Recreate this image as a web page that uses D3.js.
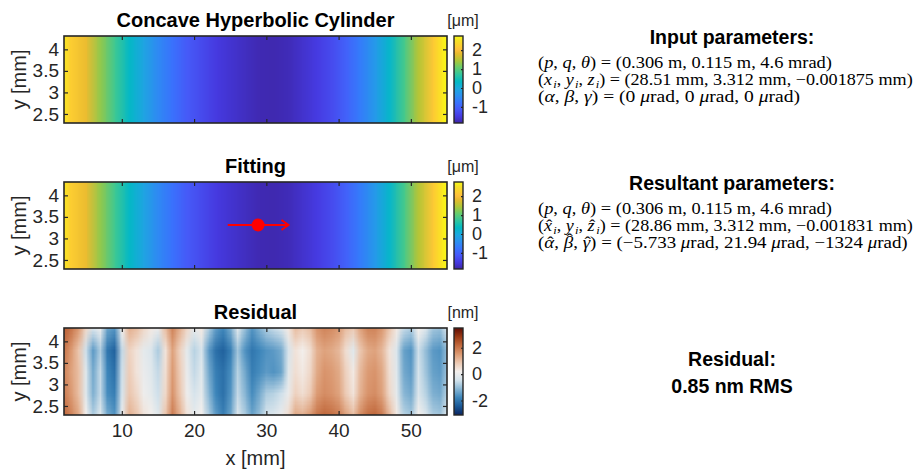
<!DOCTYPE html>
<html>
<head>
<meta charset="utf-8">
<title>Concave Hyperbolic Cylinder</title>
<script src="https://cdnjs.cloudflare.com/ajax/libs/d3/7.8.5/d3.min.js"></script>
<style>
  body { margin: 0; background: #fff; }
  text { font-family: "Liberation Sans", Arial, sans-serif; fill: #000; }
  text.math { font-family: "Liberation Serif", "Times New Roman", serif; }
  .ax line { stroke: #262626; stroke-width: 1.2; }
  .ax path { display: none; }
</style>
</head>
<body>
<div id="main-container"></div>
<script>

var outerWidth = 919;
var outerHeight = 472;

// surface heights [um], one sample every 2 mm
var surfX = [1, 3, 5, 7, 9, 11, 13, 15, 17, 19, 21, 23, 25, 27, 29, 31, 33, 35, 37, 39, 41, 43, 45, 47, 49, 51, 53, 55];
var surfZ = [3.2, 2.2, 1.85, 1.3, 0.8, 0.3, -0.1, -0.5, -0.8, -1.1, -1.3, -1.5, -1.6, -1.7, -1.78, -1.8, -1.75, -1.62, -1.48, -1.28, -1.0, -0.65, -0.25, 0.25, 0.85, 1.5, 2.15, 2.75];
// fitted surface [um] (same at this scale)
var fitZ = [3.2, 2.2, 1.85, 1.3, 0.8, 0.3, -0.1, -0.5, -0.8, -1.1, -1.3, -1.5, -1.6, -1.7, -1.78, -1.8, -1.75, -1.62, -1.48, -1.28, -1.0, -0.65, -0.25, 0.25, 0.85, 1.5, 2.15, 2.75];
var surfClim = [-1.85, 2.75];
var surfTicks = [-1, 0, 1, 2];

// residual [nm], columns every 1 mm, rows from top to bottom
var residX = [2, 3, 4, 5, 6, 7, 8, 9, 10, 11, 12, 13, 14, 15, 16, 17, 18, 19, 20, 21, 22, 23, 24, 25, 26, 27, 28,
              29, 30, 31, 32, 33, 34, 35, 36, 37, 38, 39, 40, 41, 42, 43, 44, 45, 46, 47, 48, 49, 50, 51, 52, 53, 54, 55];
var residY = [4.3, 3.8, 3.3, 2.8, 2.3];
var residRow1 = [2.3, 2.0, 1.5, 0.6, -0.4, 0.0, -1.4, -1.6, 0.2, 1.2,
                 1.0, 0.6, 0.3, 0.0, 1.0, 1.8, 1.2, 0.6, -0.1, 0.3,
                 -0.8, -1.5, -1.8, -1.3, -0.2, -1.0, -1.6, -1.2, -0.8, -0.6,
                 -0.4, 0.3, 1.0, 0.8, 1.0, 1.6, 1.8, 1.7, 1.5, 1.0,
                 0.8, 1.4, 1.8, 1.8, 1.5, 0.9, 0.3, -0.6, -0.8, 0.2,
                 -0.3, -0.9, -1.0, -0.3];
var residRow2 = [2.0, 1.5, 0.9, -0.5, -1.5, -0.8, -2.0, -2.3, -0.6, 0.7,
                 0.4, -0.1, -0.3, -0.8, 0.4, 1.4, 0.7, -0.1, -0.7, -0.4,
                 -1.5, -2.1, -2.3, -1.9, -0.9, -1.6, -2.0, -1.8, -1.6, -1.5,
                 -1.3, -0.4, 0.4, 0.2, 0.5, 1.2, 1.4, 1.3, 1.1, 0.5,
                 -0.2, 0.9, 1.3, 1.4, 1.1, 0.4, -0.3, -1.4, -1.6, -0.5,
                 -1.0, -1.5, -1.6, -1.0];
var residRow3 = [1.8, 1.4, 1.0, -0.2, -1.3, -0.6, -1.8, -2.1, -0.5, 0.8,
                 0.4, 0.0, -0.2, -0.6, 0.5, 1.5, 0.8, 0.0, -0.6, -0.2,
                 -1.3, -1.9, -2.1, -1.7, -0.7, -1.3, -1.9, -1.7, -1.5, -1.6,
                 -1.4, -0.2, 0.5, 0.3, 0.6, 1.3, 1.6, 1.5, 1.3, 0.7,
                 0.3, 1.1, 1.5, 1.6, 1.3, 0.5, -0.2, -1.3, -1.5, -0.4,
                 -0.9, -1.4, -1.5, -0.9];
var residRow4 = [1.9, 1.5, 1.0, -0.2, -1.2, -0.6, -1.7, -1.9, -0.4, 0.9,
                 0.6, 0.1, -0.1, -0.5, 0.6, 1.6, 0.9, 0.1, -0.4, -0.1,
                 -1.1, -1.8, -2.1, -1.6, -0.6, -1.1, -1.7, -1.3, -0.8, -0.7,
                 -0.5, 0.0, 0.7, 0.5, 0.8, 1.5, 1.7, 1.6, 1.4, 0.8,
                 0.4, 1.2, 1.6, 1.7, 1.4, 0.6, -0.1, -1.1, -1.3, -0.3,
                 -0.7, -1.2, -1.3, -0.7];
var residRow5 = [2.2, 1.8, 1.3, 0.2, -0.8, -0.2, -1.3, -1.6, 0.0, 1.2,
                 0.9, 0.4, 0.2, -0.2, 0.9, 1.9, 1.2, 0.4, -0.1, 0.2,
                 -0.8, -1.5, -1.9, -1.4, -0.3, -0.8, -1.4, -1.0, -0.4, -0.3,
                 0.0, 0.5, 1.3, 1.2, 1.5, 2.0, 2.2, 2.1, 1.9, 1.4,
                 1.0, 1.7, 2.1, 2.2, 1.9, 1.1, 0.3, -0.7, -0.9, 0.2,
                 -0.3, -0.8, -0.9, -0.2];
var residClim = [-3.1, 3.5];
var residTicks = [-2, 0, 2];

var xTicks = [10, 20, 30, 40, 50];
var yTicks = [2.5, 3, 3.5, 4];
var xDomain = [2, 55];
var yDomain = [2.29, 4.31];

// parameters shown on the right
var inputPqt = [0.306, 0.115, 4.6];
var inputPos = [28.51, 3.312, -0.001875];
var inputAng = [0, 0, 0];
var fitPqt = [0.306, 0.115, 4.6];
var fitPos = [28.86, 3.312, -0.001831];
var fitAng = [-5.733, 21.94, -1324];
var residualRms = 0.85;
var arrowHalf = 4.2; // mm

// colormaps (parula stops at index/63, and a blue-white-brown diverging map)
var parulaPos = [0, 5, 10, 15, 20, 25, 30, 35, 40, 45, 50, 53, 56, 60, 63];
var parulaColors = ['#3e26a8', '#463be2', '#4758f8', '#3875fe', '#2b91ef', '#1ca9df', '#02bac3',
                    '#31c69f', '#64cd6f', '#abc739', '#e6bb2d', '#febe3c', '#fccf30', '#f5e227', '#f9fb15'];
var balanceColors = ['#0a2460', '#1a5896', '#3d86bb', '#88b6d4', '#d4e3ec', '#f3efec',
                     '#ecc9b2', '#dc9a72', '#c26a3e', '#9a3a15', '#5e0d05'];

function makeCmap(colors, clim, pos) {
  var n = pos ? pos[pos.length - 1] : colors.length - 1;
  var dom = colors.map(function(c, i){ return clim[0] + (clim[1] - clim[0]) * (pos ? pos[i] : i) / n; });
  return d3.scaleLinear().domain(dom).range(colors).clamp(true);
}
var parula = makeCmap(parulaColors, surfClim, parulaPos);
var balance = makeCmap(balanceColors, residClim);

var plotLeft = 64, plotRight = 447, plotH = 87;
var panelTops = [36, 182, 328];
var cbX = 454, cbW = 9;

var svg = d3.select('#main-container').append('svg')
  .attr('width', outerWidth).attr('height', outerHeight);
var defs = svg.append('defs');

var xScale = d3.scaleLinear().domain(xDomain).range([plotLeft, plotRight]);

function heatImage(g, rows, xs, ys, cmap, yScale, clipId) {
  var nc = rows[0].length, nr = rows.length;
  var canvas = document.createElement('canvas');
  canvas.width = nc; canvas.height = nr;
  var ctx = canvas.getContext('2d');
  var img = ctx.createImageData(nc, nr);
  rows.forEach(function(row, r){
    row.forEach(function(v, c){
      var col = d3.rgb(cmap(v));
      var k = 4 * (r * nc + c);
      img.data[k] = col.r; img.data[k+1] = col.g; img.data[k+2] = col.b; img.data[k+3] = 255;
    });
  });
  ctx.putImageData(img, 0, 0);
  var dx = (xs[1] - xs[0]) / 2;
  var x0 = xScale(xs[0] - dx), x1 = xScale(xs[nc - 1] + dx);
  var y0, y1;
  if (ys.length > 1) {
    var dy = (ys[0] - ys[1]) / 2;
    y0 = yScale(ys[0] + dy); y1 = yScale(ys[nr - 1] - dy);
  } else {
    y0 = yScale(yDomain[1]); y1 = yScale(yDomain[0]);
  }
  g.append('image')
    .attr('href', canvas.toDataURL())
    .attr('x', x0).attr('width', x1 - x0)
    .attr('y', y0).attr('height', y1 - y0)
    .attr('preserveAspectRatio', 'none')
    .attr('clip-path', 'url(#' + clipId + ')');
}

function panel(i, title, unit, rows, xs, ys, cmap, clim, cticks, showX) {
  var top = panelTops[i];
  var yScale = d3.scaleLinear().domain(yDomain).range([top + plotH, top]);
  var g = svg.append('g');
  var clipId = 'clip' + i;
  defs.append('clipPath').attr('id', clipId).append('rect')
    .attr('x', plotLeft).attr('y', top).attr('width', plotRight - plotLeft).attr('height', plotH);

  heatImage(g, rows, xs, ys, cmap, yScale, clipId);

  // ticks inside on all four sides
  g.append('g').attr('class', 'ax').attr('transform', 'translate(' + plotLeft + ',0)')
    .call(d3.axisLeft(yScale).tickValues(yTicks).tickSize(-4).tickPadding(5).tickFormat(function(d){ return String(d); }))
    .selectAll('text').style('font-size', '19px').style('fill', '#262626');
  g.append('g').attr('class', 'ax').attr('transform', 'translate(' + plotRight + ',0)')
    .call(d3.axisRight(yScale).tickValues(yTicks).tickSize(-4).tickFormat(''));
  g.append('g').attr('class', 'ax').attr('transform', 'translate(0,' + top + ')')
    .call(d3.axisTop(xScale).tickValues(xTicks).tickSize(-4).tickFormat(''));
  var xb = g.append('g').attr('class', 'ax').attr('transform', 'translate(0,' + (top + plotH) + ')')
    .call(d3.axisBottom(xScale).tickValues(xTicks).tickSize(-4).tickPadding(9)
      .tickFormat(showX ? function(d){ return String(d); } : ''));
  xb.selectAll('text').style('font-size', '19px').style('fill', '#262626');

  g.append('rect').attr('x', plotLeft).attr('y', top)
    .attr('width', plotRight - plotLeft).attr('height', plotH)
    .attr('fill', 'none').attr('stroke', '#262626').attr('stroke-width', 1.6);

  g.append('text').attr('x', (plotLeft + plotRight) / 2).attr('y', top - 9)
    .attr('text-anchor', 'middle').style('font-size', '20px').style('font-weight', 'bold')
    .text(title);

  g.append('text')
    .attr('transform', 'translate(26,' + (top + plotH / 2) + ') rotate(-90)')
    .attr('text-anchor', 'middle').style('font-size', '20px').style('fill', '#262626')
    .text('y [mm]');

  // colorbar
  var cScale = d3.scaleLinear().domain(clim).range([top + plotH, top]);
  var gid = 'grad' + i;
  var grad = defs.append('linearGradient').attr('id', gid)
    .attr('x1', 0).attr('y1', 0).attr('x2', 0).attr('y2', 1);
  d3.range(61).forEach(function(k){
    var v = clim[1] - (clim[1] - clim[0]) * k / 60;
    grad.append('stop').attr('offset', k / 60).attr('stop-color', cmap(v));
  });
  g.append('rect').attr('x', cbX).attr('y', top).attr('width', cbW).attr('height', plotH)
    .attr('fill', 'url(#' + gid + ')').attr('stroke', '#262626').attr('stroke-width', 1.4);
  g.append('g').attr('class', 'ax').attr('transform', 'translate(' + (cbX + cbW) + ',0)')
    .call(d3.axisRight(cScale).tickValues(cticks).tickSize(-2).tickPadding(9).tickFormat(function(d){ return String(d); }))
    .selectAll('text').style('font-size', '18px').style('fill', '#262626');
  g.append('text').attr('x', cbX + 9).attr('y', top - 10)
    .attr('text-anchor', 'middle').style('font-size', '16px').style('fill', '#262626')
    .text(unit);

  return yScale;
}

panel(0, 'Concave Hyperbolic Cylinder', '[\u03bcm]', [surfZ], surfX, [0], parula, surfClim, surfTicks, false);
var yFit = panel(1, 'Fitting', '[\u03bcm]', [fitZ], surfX, [0], parula, surfClim, surfTicks, false);
panel(2, 'Residual', '[nm]', [residRow1, residRow2, residRow3, residRow4, residRow5], residX, residY,
      balance, residClim, residTicks, true);

svg.append('text').attr('x', (plotLeft + plotRight) / 2).attr('y', 465)
  .attr('text-anchor', 'middle').style('font-size', '20px').style('fill', '#262626')
  .text('x [mm]');

// fitted position marker with direction arrow
var mx = fitPos[0], my = fitPos[1];
var mk = svg.append('g').attr('stroke', '#ff0000').attr('stroke-width', 2).attr('fill', 'none');
mk.append('line')
  .attr('x1', xScale(mx - arrowHalf)).attr('x2', xScale(mx + arrowHalf))
  .attr('y1', yFit(my)).attr('y2', yFit(my));
mk.append('polyline')
  .attr('points', [[xScale(mx + arrowHalf) - 7, yFit(my) - 5], [xScale(mx + arrowHalf), yFit(my)],
                   [xScale(mx + arrowHalf) - 7, yFit(my) + 5]].join(' '));
svg.append('circle').attr('cx', xScale(mx)).attr('cy', yFit(my)).attr('r', 6.5).attr('fill', '#ff0000');

// right hand text
function fmt(v) { return String(v).replace('-', '\u2212'); }

// serif line stretched horizontally to the width it has in the figure
function mathLine(y, parts, len) {
  var t = svg.append('text').attr('class', 'math').attr('x', 0).attr('y', 0)
    .style('font-size', '16px');
  var cur = 0, pendingDx = 0;
  function add(txt, shift, italic, size) {
    var s = t.append('tspan').text(txt);
    if (shift !== cur) { s.attr('dy', shift - cur); cur = shift; }
    if (pendingDx) { s.attr('dx', pendingDx); pendingDx = 0; }
    if (italic) s.style('font-style', 'italic');
    if (size) s.style('font-size', size + 'px');
    return s;
  }
  parts.forEach(function(p){
    if (p[1] === 'i') add(p[0], 0, true);
    else if (p[1] === 'sub') { pendingDx = 1; add(p[0], 2.5, true, 11); }
    else if (p[1] === 'hat') {
      var letter = add(p[0], 0, true);
      var lw = letter.node().getComputedTextLength();
      var hat = add('\u02c6', p[2] || 0, false);
      var hw = hat.node().getComputedTextLength();
      hat.attr('dx', -(lw / 2 + hw / 2) + 1);
      pendingDx = lw / 2 - hw / 2 - 1;
    }
    else add(p[0], 0, false);
  });
  var w = t.node().getBBox().width;
  var sx = w > 0 ? len / w : 1;
  t.attr('transform', 'translate(538,' + y + ') scale(' + sx + ',1)');
}

function header(y, txt) {
  svg.append('text').attr('x', 732).attr('y', y).attr('text-anchor', 'middle')
    .style('font-size', '19.5px').style('font-weight', 'bold').text(txt);
}

function pqtParts(v) {
  return [['('], ['p', 'i'], [', '], ['q', 'i'], [', '], ['\u03b8', 'i'],
          [') = (' + v[0] + ' m, ' + v[1] + ' m, ' + v[2] + ' mrad)']];
}
function posParts(v, hat) {
  var s = hat ? 'hat' : 'i';
  return [['('], ['x', s, 0], ['i', 'sub'], [', '], ['y', 'i'], ['i', 'sub'], [', '], ['z', s, 0], ['i', 'sub'],
          [') = (' + fmt(v[0]) + ' mm, ' + fmt(v[1]) + ' mm, ' + fmt(v[2]) + ' mm)']];
}
function angParts(v, hat) {
  var s = hat ? 'hat' : 'i';
  return [['('], ['\u03b1', s, 0], [', '], ['\u03b2', s, -3.5], [', '], ['\u03b3', s, 0],
          [') = (' + fmt(v[0]) + ' '], ['\u03bc', 'i'], ['rad, ' + fmt(v[1]) + ' '], ['\u03bc', 'i'],
          ['rad, ' + fmt(v[2]) + ' '], ['\u03bc', 'i'], ['rad)']];
}

header(44, 'Input parameters:');
mathLine(68, pqtParts(inputPqt), 294);
mathLine(85, posParts(inputPos, false), 375);
mathLine(102, angParts(inputAng, false), 262);

header(190, 'Resultant parameters:');
mathLine(214, pqtParts(fitPqt), 294);
mathLine(231, posParts(fitPos, true), 375);
mathLine(248, angParts(fitAng, true), 370);

header(366, 'Residual:');
header(393, residualRms + ' nm RMS');

</script>
</body>
</html>
